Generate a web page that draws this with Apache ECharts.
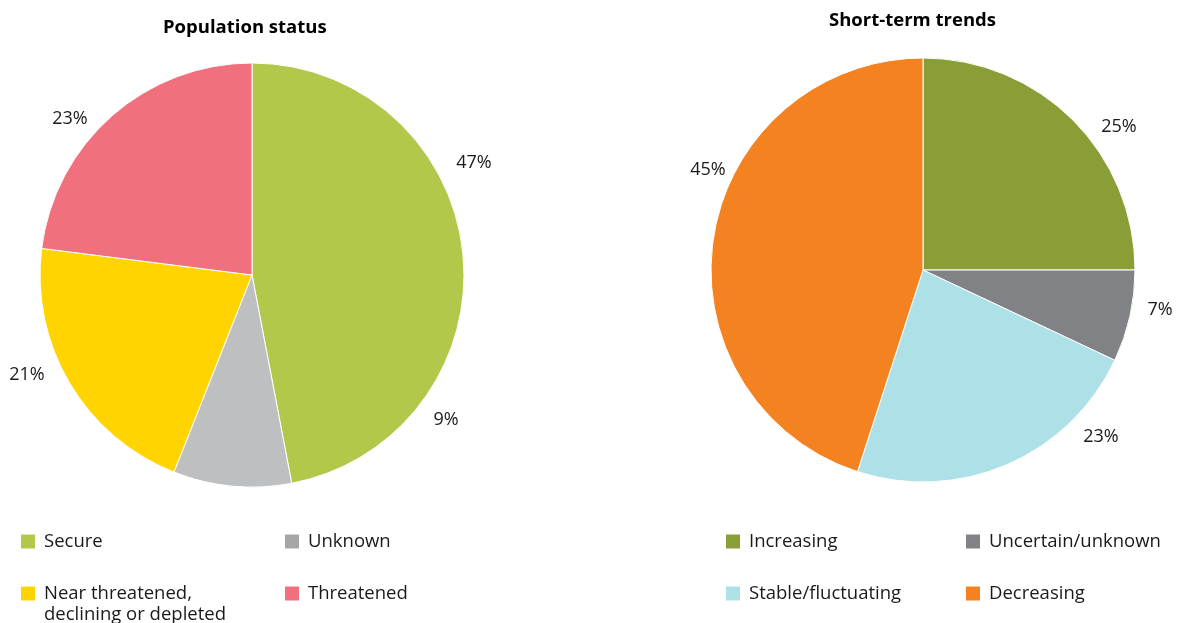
<!DOCTYPE html>
<html>
<head>
<meta charset="utf-8">
<script src="https://cdn.jsdelivr.net/npm/echarts@6/dist/echarts.min.js"></script>
<style>
  html, body { margin: 0; padding: 0; background: #fff; }
  #chart { width: 1177px; height: 623px; }
</style>
</head>
<body>
<div id="chart"></div>
<script>
// Population status of species (share, %)
const statusCategories = ['Secure', 'Unknown', 'Near threatened,\ndeclining or depleted', 'Threatened'];
const statusValues = [47, 9, 21, 23];
const statusColors = ['#b2c84b', '#bebfc1', '#ffd400', '#f0707e'];

// Short-term population trends (share, %)
const trendCategories = ['Increasing', 'Uncertain/unknown', 'Stable/fluctuating', 'Decreasing'];
const trendValues = [25, 7, 23, 45];
const trendColors = ['#8a9e38', '#818285', '#aee0e7', '#f58220'];

const FONT = '"Open Sans", "Noto Sans", sans-serif';

// label anchor points for each pie, in the order of the data
const statusLabelPos = [[474, 163], [446, 420], [27, 375], [70, 119]];
const trendLabelPos = [[1119, 127], [1160, 310], [1101, 437], [708, 170]];

function pieSeries(names, values, colors, center, labelPos) {
  return {
    type: 'pie',
    radius: 212,
    center: center,
    startAngle: 90,
    clockwise: true,
    silent: true,
    animation: false,
    avoidLabelOverlap: false,
    itemStyle: { borderColor: '#ffffff', borderWidth: 1 },
    label: {
      show: true,
      position: 'outside',
      formatter: '{c}%',
      color: '#1a1a1a',
      fontFamily: FONT,
      fontSize: 18,
      overflow: 'none'
    },
    labelLine: { show: false },
    labelLayout: function (p) {
      const pos = labelPos[p.dataIndex];
      return { x: pos[0], y: pos[1], align: 'center', verticalAlign: 'middle' };
    },
    data: names.map((n, i) => ({ name: n, value: values[i], itemStyle: { color: colors[i] } }))
  };
}

function legendItem(name, left, top, iconColor) {
  const item = { name: name, icon: 'rect' };
  if (iconColor) item.itemStyle = { color: iconColor };
  return {
    data: [item],
    left: left,
    top: top,
    padding: 0,
    itemWidth: 16,
    itemHeight: 16,
    selectedMode: false,
    // a wrapped name keeps its first line level with the swatch
    formatter: function (n) { return n.indexOf('\n') >= 0 ? '\n' + n : n; },
    textStyle: {
      fontFamily: FONT,
      fontSize: 18.5,
      color: '#1a1a1a',
      lineHeight: 21,
      padding: [0, 0, 0, 3]
    }
  };
}

const chart = echarts.init(document.getElementById('chart'), null, { renderer: 'canvas' });
chart.setOption({
  backgroundColor: '#ffffff',
  animation: false,
  title: [
    {
      text: 'Population status',
      left: 163, top: 18, padding: 0,
      textStyle: { fontFamily: FONT, fontSize: 18.5, fontWeight: 'bold', color: '#000' }
    },
    {
      text: 'Short-term trends',
      left: 829, top: 11, padding: 0,
      textStyle: { fontFamily: FONT, fontSize: 18.5, fontWeight: 'bold', color: '#000' }
    }
  ],
  legend: [
    legendItem(statusCategories[0], 19, 531),
    legendItem(statusCategories[1], 283, 531, '#a6a6a6'),
    legendItem(statusCategories[2], 19, 562),
    legendItem(statusCategories[3], 283, 583),
    legendItem(trendCategories[0], 724, 531),
    legendItem(trendCategories[1], 964, 531),
    legendItem(trendCategories[2], 724, 583),
    legendItem(trendCategories[3], 964, 583)
  ],
  series: [
    pieSeries(statusCategories, statusValues, statusColors, [252, 275], statusLabelPos),
    pieSeries(trendCategories, trendValues, trendColors, [923, 270], trendLabelPos)
  ]
});
</script>
</body>
</html>
